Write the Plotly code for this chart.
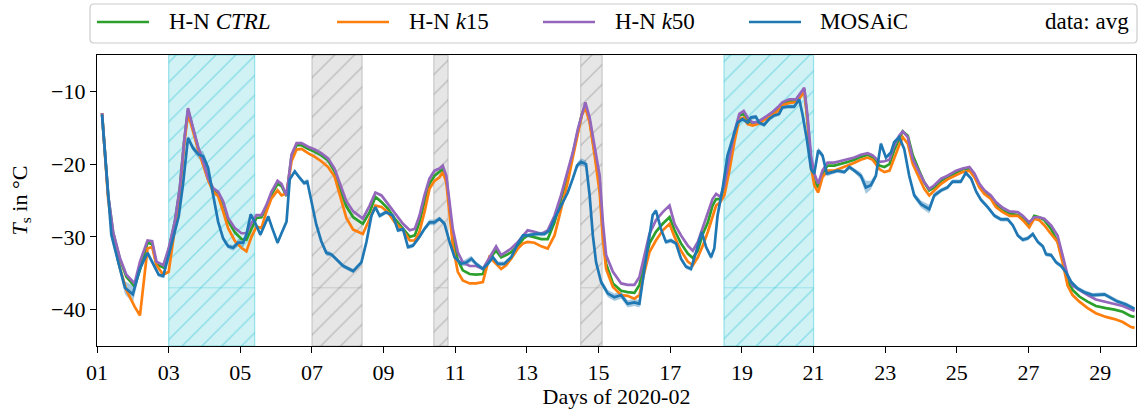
import plotly.graph_objects as go

# ---------------------------------------------------------------
# Surface temperature, February 2020 (days since 2020-02-01 00:00)
# ---------------------------------------------------------------
model_day = [
    0.14, 0.31, 0.45, 0.64, 0.82, 1.05, 1.20, 1.41, 1.54, 1.66,
    1.85, 2.00, 2.17, 2.31, 2.43, 2.54, 2.68, 2.82, 2.96, 3.10,
    3.24, 3.38, 3.52, 3.66, 3.85, 4.03, 4.17, 4.31, 4.45, 4.59,
    4.73, 4.87, 5.04, 5.15, 5.29, 5.43, 5.57, 5.71, 5.89, 6.08,
    6.26, 6.45, 6.63, 6.82, 6.96, 7.15, 7.42, 7.61, 7.77, 7.94,
    8.12, 8.31, 8.54, 8.73, 8.87, 9.00, 9.14, 9.28, 9.42, 9.56,
    9.65, 9.75, 9.84, 9.93, 10.07, 10.21, 10.40, 10.58, 10.77, 10.95,
    11.14, 11.28, 11.42, 11.56, 11.75, 11.89, 12.02, 12.21, 12.40, 12.58,
    12.77, 12.95, 13.14, 13.28, 13.42, 13.53, 13.63, 13.75, 13.89, 14.03,
    14.12, 14.21, 14.40, 14.63, 14.81, 15.00, 15.14, 15.28, 15.42, 15.60,
    15.79, 15.98, 16.12, 16.30, 16.49, 16.63, 16.77, 16.91, 17.05, 17.18,
    17.28, 17.40, 17.51, 17.65, 17.79, 17.93, 18.05, 18.16, 18.30, 18.44,
    18.58, 18.72, 18.86, 19.00, 19.13, 19.32, 19.51, 19.65, 19.74, 19.83,
    19.93, 20.02, 20.13, 20.25, 20.39, 20.58, 20.76, 20.95, 21.14, 21.32,
    21.51, 21.65, 21.84, 21.98, 22.12, 22.25, 22.39, 22.49, 22.63, 22.77,
    22.95, 23.09, 23.23, 23.37, 23.56, 23.74, 23.98, 24.16, 24.35, 24.49,
    24.63, 24.77, 24.95, 25.09, 25.28, 25.47, 25.70, 25.84, 26.02, 26.16,
    26.30, 26.44, 26.63, 26.81, 26.95, 27.09, 27.23, 27.42, 27.65, 27.88,
    28.16, 28.40, 28.63, 28.86, 28.96,
]

ctrl_ts = [
    -13.0, -24.3, -29.4, -33.1, -35.5, -36.8, -34.5, -30.8, -31.0, -33.8,
    -34.2, -31.8, -28.0, -23.4, -17.0, -12.5, -15.1, -17.7, -19.8, -22.0,
    -23.5, -24.0, -25.4, -27.8, -29.4, -30.3, -30.4, -28.8, -27.4, -27.3,
    -26.0, -24.2, -22.7, -23.0, -24.4, -18.9, -17.4, -17.4, -17.9, -18.3,
    -18.8, -19.5, -21.0, -23.9, -25.8, -27.3, -28.2, -26.6, -24.5, -25.2,
    -26.1, -27.5, -28.9, -30.0, -29.8, -28.0, -25.2, -22.7, -21.6, -21.1,
    -20.7, -22.0, -25.7, -29.8, -33.2, -34.6, -35.1, -35.2, -35.1, -33.0,
    -31.9, -32.8, -32.5, -32.1, -31.2, -30.3, -29.8, -30.0, -30.3, -30.3,
    -28.0, -24.8, -21.6, -18.6, -15.4, -13.2, -11.9, -14.0, -18.4, -22.9,
    -29.3, -33.7, -36.4, -37.4, -37.6, -37.7, -36.6, -33.7, -30.9, -29.3,
    -28.2, -27.3, -29.1, -30.9, -32.3, -32.9, -31.9, -29.6, -28.0, -25.7,
    -24.8, -24.8, -23.2, -19.7, -16.1, -13.3, -13.1, -14.0, -14.4, -14.3,
    -13.9, -13.5, -13.0, -12.4, -11.7, -11.4, -11.3, -10.5, -9.7, -13.8,
    -19.7, -22.3, -23.2, -21.3, -20.2, -20.2, -20.0, -19.7, -19.4, -19.0,
    -18.7, -19.1, -20.2, -20.4, -20.0, -18.1, -16.5, -15.5, -16.1, -18.8,
    -20.9, -22.5, -23.6, -23.2, -22.3, -21.8, -21.1, -20.7, -20.7, -21.6,
    -22.9, -23.9, -24.5, -25.6, -26.4, -26.8, -27.0, -27.5, -28.4, -27.1,
    -27.3, -27.7, -28.9, -30.7, -33.0, -36.0, -37.3, -38.2, -38.9, -39.5,
    -39.8, -40.0, -40.3, -40.9, -41.0,
]

k15_ts = [
    -13.0, -24.7, -30.0, -34.3, -37.3, -39.6, -40.8, -31.6, -31.4, -33.9,
    -35.2, -34.8, -29.0, -24.0, -17.5, -13.0, -15.5, -18.0, -20.1, -22.2,
    -23.8, -24.4, -26.5, -28.8, -30.6, -31.5, -32.0, -30.0, -28.6, -28.8,
    -26.5, -24.7, -23.6, -24.3, -24.0, -19.6, -18.0, -17.9, -18.5, -19.0,
    -19.6, -20.4, -21.7, -25.1, -27.4, -29.0, -29.6, -27.5, -25.7, -25.9,
    -26.6, -28.0, -29.1, -30.5, -30.5, -29.3, -26.6, -23.4, -22.3, -21.8,
    -21.1, -22.5, -26.6, -31.2, -34.8, -36.0, -36.4, -36.4, -36.2, -32.8,
    -33.7, -34.4, -33.9, -33.0, -31.6, -30.9, -30.7, -30.8, -31.3, -31.6,
    -29.8, -26.4, -22.5, -19.1, -15.6, -13.3, -12.2, -14.3, -18.8, -23.9,
    -30.3, -34.4, -36.9, -38.0, -38.1, -38.5, -38.0, -34.8, -32.1, -30.5,
    -29.1, -28.2, -30.0, -31.9, -33.4, -33.9, -32.8, -31.2, -29.3, -27.1,
    -25.7, -25.2, -24.3, -20.9, -17.0, -13.8, -13.6, -14.5, -14.7, -14.5,
    -14.1, -13.7, -13.2, -12.7, -11.9, -11.6, -11.5, -10.7, -9.9, -14.0,
    -20.4, -22.9, -23.9, -21.8, -20.9, -20.9, -20.6, -20.2, -19.8, -19.4,
    -19.1, -19.4, -20.7, -21.1, -20.9, -19.1, -17.4, -16.3, -17.2, -20.0,
    -21.8, -23.4, -24.3, -23.6, -22.7, -22.1, -21.5, -21.1, -20.9, -21.8,
    -23.2, -24.1, -24.8, -25.9, -26.6, -27.1, -27.1, -27.7, -28.7, -27.5,
    -27.7, -28.4, -29.6, -30.7, -33.5, -36.7, -38.0, -38.9, -39.8, -40.5,
    -41.0, -41.3, -41.7, -42.4, -42.5,
]

k50_ts = [
    -13.0, -24.2, -29.3, -32.9, -35.2, -36.4, -33.4, -30.5, -30.6, -33.4,
    -33.9, -31.6, -27.9, -23.3, -16.9, -12.3, -15.0, -17.6, -19.6, -21.9,
    -23.3, -23.8, -25.1, -27.4, -28.8, -29.5, -29.5, -28.1, -27.0, -27.0,
    -25.6, -23.8, -22.3, -22.7, -24.3, -18.7, -17.1, -17.1, -17.6, -18.0,
    -18.5, -19.2, -20.6, -23.3, -25.1, -26.5, -27.5, -25.7, -23.9, -24.3,
    -25.5, -26.8, -28.2, -29.1, -28.9, -27.1, -24.3, -22.0, -20.9, -20.6,
    -20.2, -21.6, -25.2, -28.9, -32.1, -33.5, -34.0, -34.0, -34.4, -32.8,
    -31.3, -32.5, -32.1, -31.6, -30.7, -29.8, -29.1, -29.3, -29.6, -29.1,
    -27.1, -24.3, -21.1, -18.4, -15.2, -13.1, -11.5, -13.6, -17.5, -21.6,
    -28.0, -32.5, -34.8, -36.4, -36.6, -36.6, -35.5, -32.5, -29.6, -27.7,
    -26.6, -25.7, -28.2, -29.8, -31.2, -31.9, -30.7, -28.7, -26.8, -24.8,
    -24.1, -24.5, -22.9, -19.3, -15.6, -13.1, -12.7, -13.6, -14.3, -14.2,
    -13.8, -13.3, -12.8, -12.2, -11.5, -11.1, -11.1, -10.2, -9.5, -13.3,
    -18.8, -21.3, -22.7, -20.9, -19.8, -19.8, -19.6, -19.4, -19.1, -18.7,
    -18.5, -18.8, -19.7, -19.6, -19.4, -17.5, -16.1, -15.5, -16.3, -19.3,
    -21.1, -22.5, -23.4, -22.9, -22.0, -21.6, -20.9, -20.6, -20.4, -21.3,
    -22.7, -23.6, -24.3, -25.2, -26.0, -26.5, -26.6, -27.1, -28.0, -27.3,
    -27.3, -27.5, -28.4, -29.8, -32.5, -35.3, -36.7, -37.3, -38.0, -38.6,
    -38.9, -39.2, -39.5, -40.0, -40.2,
]

mosaic_day = [
    0.14, 0.31, 0.40, 0.59, 0.78, 1.00, 1.20, 1.41, 1.57, 1.72,
    1.85, 2.00, 2.12, 2.28, 2.40, 2.54, 2.68, 2.84, 2.96, 3.10,
    3.24, 3.38, 3.52, 3.66, 3.80, 3.94, 4.08, 4.17, 4.29, 4.40,
    4.56, 4.68, 4.78, 4.89, 5.04, 5.15, 5.29, 5.38, 5.52, 5.66,
    5.78, 5.87, 5.98, 6.12, 6.26, 6.40, 6.54, 6.68, 6.87, 7.15,
    7.38, 7.52, 7.66, 7.77, 7.89, 8.07, 8.26, 8.40, 8.54, 8.68,
    8.82, 9.00, 9.14, 9.28, 9.42, 9.56, 9.70, 9.84, 9.98, 10.17,
    10.31, 10.45, 10.58, 10.77, 10.91, 11.05, 11.19, 11.37, 11.56, 11.75,
    11.89, 12.02, 12.26, 12.49, 12.63, 12.77, 12.95, 13.14, 13.28, 13.40,
    13.51, 13.65, 13.75, 13.84, 13.93, 14.07, 14.26, 14.44, 14.63, 14.81,
    15.00, 15.14, 15.28, 15.42, 15.51, 15.60, 15.74, 15.88, 16.02, 16.16,
    16.30, 16.44, 16.58, 16.72, 16.88, 17.00, 17.14, 17.23, 17.32, 17.46,
    17.60, 17.74, 17.88, 18.02, 18.16, 18.25, 18.39, 18.48, 18.62, 18.76,
    18.90, 19.04, 19.13, 19.27, 19.46, 19.60, 19.69, 19.81, 19.93, 20.02,
    20.13, 20.25, 20.37, 20.53, 20.67, 20.86, 21.00, 21.14, 21.32, 21.46,
    21.60, 21.74, 21.88, 22.02, 22.16, 22.25, 22.39, 22.53, 22.67, 22.81,
    23.00, 23.23, 23.37, 23.56, 23.74, 23.88, 24.11, 24.25, 24.40, 24.54,
    24.67, 24.86, 25.05, 25.23, 25.42, 25.56, 25.70, 25.84, 25.98, 26.12,
    26.26, 26.40, 26.49, 26.63, 26.77, 26.91, 27.05, 27.19, 27.37, 27.56,
    27.79, 28.12, 28.31, 28.49, 28.72, 28.96,
]

mosaic_ts = [
    -13.2, -24.7, -29.7, -33.4, -37.0, -37.9, -34.3, -32.2, -33.8, -35.2,
    -35.4, -32.4, -30.4, -27.2, -22.8, -16.4, -17.8, -18.7, -18.9, -20.5,
    -24.2, -27.9, -30.2, -31.3, -31.5, -30.8, -30.8, -29.7, -26.9, -27.9,
    -29.7, -28.3, -27.2, -28.8, -30.8, -29.5, -27.9, -22.1, -21.0, -21.9,
    -22.6, -22.4, -25.1, -28.3, -30.6, -32.2, -32.4, -33.1, -34.0, -34.7,
    -33.5, -30.7, -27.1, -25.9, -27.1, -26.6, -27.1, -29.1, -28.9, -31.4,
    -31.2, -30.0, -28.9, -28.0, -28.0, -27.5, -28.2, -30.7, -32.8, -33.7,
    -33.5, -33.0, -33.7, -34.4, -33.7, -32.8, -33.7, -33.7, -32.8, -30.9,
    -29.8, -29.8, -29.6, -29.6, -29.1, -27.5, -25.7, -23.9, -22.0, -20.2,
    -19.7, -20.0, -24.3, -29.8, -33.5, -36.2, -37.8, -38.3, -38.0, -39.2,
    -39.0, -39.2, -34.4, -29.8, -27.0, -26.4, -28.9, -30.7, -30.5, -30.9,
    -33.0, -34.1, -34.4, -32.1, -29.3, -31.4, -32.8, -31.6, -27.1, -23.4,
    -18.8, -16.5, -14.3, -13.8, -14.3, -13.6, -13.5, -14.3, -14.6, -13.8,
    -13.3, -13.1, -12.2, -12.1, -12.1, -11.1, -13.1, -16.5, -20.7, -21.3,
    -18.1, -18.8, -21.3, -21.1, -20.9, -21.1, -20.4, -20.9, -21.6, -23.2,
    -22.9, -21.6, -17.2, -19.1, -18.4, -17.0, -16.3, -17.9, -21.6, -24.3,
    -25.5, -26.2, -24.3, -23.6, -23.2, -22.4, -22.4, -21.2, -22.0, -23.8,
    -24.9, -25.9, -27.1, -27.6, -27.6, -28.4, -29.8, -30.4, -30.2, -29.6,
    -30.7, -31.3, -32.4, -32.5, -33.5, -34.0, -34.9, -36.2, -37.1, -37.6,
    -38.0, -37.9, -38.4, -38.9, -39.3, -39.9,
]

# half-width of the observation spread
mosaic_spread = [
    0.3, 0.4, 0.5, 0.6, 0.9, 1.2, 0.6, 0.4, 0.3, 0.3,
    0.3, 0.3, 0.3, 0.3, 0.3, 0.3, 0.4, 0.6, 0.7, 0.5,
    0.3, 0.3, 0.3, 0.3, 0.4, 0.5, 0.6, 0.5, 0.3, 0.3,
    0.3, 0.3, 0.3, 0.3, 0.3, 0.3, 0.3, 0.3, 0.3, 0.3,
    0.3, 0.4, 0.3, 0.3, 0.3, 0.4, 0.3, 0.3, 0.3, 0.3,
    0.3, 0.3, 0.4, 0.3, 0.3, 0.3, 0.3, 0.3, 0.3, 0.3,
    0.3, 0.3, 0.3, 0.4, 0.4, 0.3, 0.3, 0.3, 0.3, 0.3,
    0.5, 0.4, 0.3, 0.3, 0.3, 0.3, 0.3, 0.3, 0.3, 0.3,
    0.3, 0.3, 0.3, 0.3, 0.3, 0.3, 0.3, 0.3, 0.3, 0.4,
    0.5, 0.5, 0.3, 0.3, 0.3, 0.4, 0.5, 0.5, 0.5, 0.5,
    0.5, 0.5, 0.3, 0.3, 0.3, 0.3, 0.3, 0.3, 0.3, 0.3,
    0.3, 0.3, 0.3, 0.3, 0.3, 0.3, 0.4, 0.3, 0.3, 0.3,
    0.3, 0.3, 0.3, 0.3, 0.3, 0.3, 0.3, 0.3, 0.3, 0.3,
    0.3, 0.3, 0.3, 0.3, 0.3, 0.3, 0.3, 0.3, 0.4, 0.4,
    0.4, 0.4, 0.4, 0.3, 0.3, 0.3, 0.3, 0.3, 0.5, 0.9,
    0.6, 0.4, 0.3, 0.3, 0.3, 0.3, 0.3, 0.3, 0.3, 0.4,
    0.5, 0.6, 0.4, 0.3, 0.3, 0.3, 0.3, 0.3, 0.3, 0.3,
    0.3, 0.3, 0.3, 0.3, 0.3, 0.3, 0.3, 0.3, 0.3, 0.3,
    0.3, 0.3, 0.3, 0.3, 0.3, 0.3, 0.3, 0.3, 0.3, 0.3,
    0.3, 0.3, 0.3, 0.3, 0.3, 0.3,
]

# highlighted periods (days since 2020-02-01)
span_start = [2.0, 6.0, 9.4, 13.5, 17.5]
span_end = [4.4, 7.4, 9.8, 14.1, 20.0]
span_kind = ["cyan", "gray", "gray", "gray", "cyan"]
span_floor = -37.0

x_tick_days = list(range(1, 30, 2))
x_tick_text = [f"{d:02d}" for d in x_tick_days]
y_ticks = [-40, -30, -20, -10]
y_limits = [-45, -5]
x_limits = [1, 30]

series_names = ["H-N <i>CTRL</i>", "H-N <i>k</i>15", "H-N <i>k</i>50", "MOSAiC"]
series_colors = ["#2ca02c", "#ff7f0e", "#9467bd", "#1f77b4"]

assert len(model_day) == len(ctrl_ts) == len(k15_ts) == len(k50_ts)
assert len(mosaic_day) == len(mosaic_ts) == len(mosaic_spread)

# ---------------------------------------------------------------
W, H = 1139, 414
PLOT_L, PLOT_R, PLOT_T, PLOT_B = 97, 1136, 55, 346
FONT = "Liberation Serif"


def xp(px):
    return (px - PLOT_L) / (PLOT_R - PLOT_L)


def yp(py):
    return (PLOT_B - py) / (PLOT_B - PLOT_T)


span_style = {
    "cyan": dict(fill="rgba(23,190,207,0.2)", edge="rgba(23,190,207,0.4)",
                 hatch="rgb(23,190,207)"),
    "gray": dict(fill="rgba(128,128,128,0.2)", edge="rgba(128,128,128,0.35)",
                 hatch="rgb(128,128,128)"),
}

fig = go.Figure()

for s, e, kind in zip(span_start, span_end, span_kind):
    st = span_style[kind]
    x0, x1 = 1 + s, 1 + e
    fig.add_trace(go.Scatter(
        x=[x0, x1, x1, x0, x0],
        y=[y_limits[0], y_limits[0], y_limits[1], y_limits[1], y_limits[0]],
        mode="lines", fill="toself", fillcolor=st["fill"],
        fillpattern=dict(shape="/", fgcolor=st["hatch"], fgopacity=0.4,
                         bgcolor=st["fill"], size=14, solidity=0.1),
        line=dict(color=st["edge"], width=1.2),
        hoverinfo="skip", showlegend=False,
    ))
    fig.add_trace(go.Scatter(
        x=[x0, x1], y=[span_floor, span_floor], mode="lines",
        line=dict(color=st["edge"], width=0.8),
        hoverinfo="skip", showlegend=False,
    ))

mx = [1 + d for d in mosaic_day]
lower = [v - s for v, s in zip(mosaic_ts, mosaic_spread)]
upper = [v + s for v, s in zip(mosaic_ts, mosaic_spread)]
fig.add_trace(go.Scatter(x=mx, y=lower, mode="lines", line=dict(width=0),
                         hoverinfo="skip", showlegend=False))
fig.add_trace(go.Scatter(x=mx, y=upper, mode="lines", line=dict(width=0),
                         fill="tonexty", fillcolor="rgba(31,119,180,0.4)",
                         hoverinfo="skip", showlegend=False))

x_model = [1 + d for d in model_day]
for ys, name, col in zip([ctrl_ts, k15_ts, k50_ts], series_names[:3], series_colors[:3]):
    fig.add_trace(go.Scatter(x=x_model, y=ys, mode="lines", name=name,
                             line=dict(color=col, width=2.7), showlegend=False))
fig.add_trace(go.Scatter(x=mx, y=mosaic_ts, mode="lines", name=series_names[3],
                         line=dict(color=series_colors[3], width=2.7), showlegend=False))

axis_common = dict(
    showline=True, linecolor="black", linewidth=1.2, mirror=True,
    ticks="outside", ticklen=6, tickwidth=1.2, tickcolor="black",
    showgrid=False, zeroline=False,
    tickfont=dict(family=FONT, size=22, color="black"),
)
fig.update_xaxes(range=x_limits, tickvals=x_tick_days, ticktext=x_tick_text,
                 title=dict(text="Days of 2020-02", standoff=4,
                            font=dict(family=FONT, size=22, color="black")),
                 **axis_common)
fig.update_yaxes(range=y_limits, tickvals=y_ticks,
                 title=dict(text="<i>T</i><sub>s</sub> in °C", standoff=17,
                            font=dict(family=FONT, size=22, color="black")),
                 **axis_common)

shapes = []
annotations = []

# legend frame with rounded corners
lx0, lx1, ly0, ly1 = xp(90), xp(1137), yp(43), yp(4)
rx = 4 / (PLOT_R - PLOT_L)
ry = 4 / (PLOT_B - PLOT_T)
path = (f"M {lx0+rx},{ly0} L {lx1-rx},{ly0} Q {lx1},{ly0} {lx1},{ly0+ry} "
        f"L {lx1},{ly1-ry} Q {lx1},{ly1} {lx1-rx},{ly1} "
        f"L {lx0+rx},{ly1} Q {lx0},{ly1} {lx0},{ly1-ry} "
        f"L {lx0},{ly0+ry} Q {lx0},{ly0} {lx0+rx},{ly0} Z")
shapes.append(dict(type="path", path=path, xref="paper", yref="paper",
                   line=dict(color="rgba(204,204,204,1)", width=1.2),
                   fillcolor="rgba(255,255,255,0.8)", layer="above"))

legend_line_x = [97, 337, 543, 749]
legend_text_x = [167, 407, 613, 818]
legend_y = 22
for lx, tx, name, col in zip(legend_line_x, legend_text_x, series_names, series_colors):
    shapes.append(dict(type="line", xref="paper", yref="paper",
                       x0=xp(lx), x1=xp(lx + 52), y0=yp(legend_y), y1=yp(legend_y),
                       line=dict(color=col, width=2.7), layer="above"))
    annotations.append(dict(text=name, xref="paper", yref="paper",
                            x=xp(tx), y=yp(legend_y), xanchor="left", yanchor="middle",
                            showarrow=False,
                            font=dict(family=FONT, size=23, color="black")))
annotations.append(dict(text="data: avg", xref="paper", yref="paper",
                        x=xp(1131), y=yp(legend_y), xanchor="right", yanchor="middle",
                        showarrow=False, font=dict(family=FONT, size=23, color="black")))

fig.update_layout(
    width=W, height=H,
    margin=dict(l=PLOT_L, r=W - PLOT_R, t=PLOT_T, b=H - PLOT_B),
    plot_bgcolor="white", paper_bgcolor="white",
    showlegend=False,
    font=dict(family=FONT, size=22, color="black"),
    shapes=shapes, annotations=annotations,
)

fig.write_html("out.html")
